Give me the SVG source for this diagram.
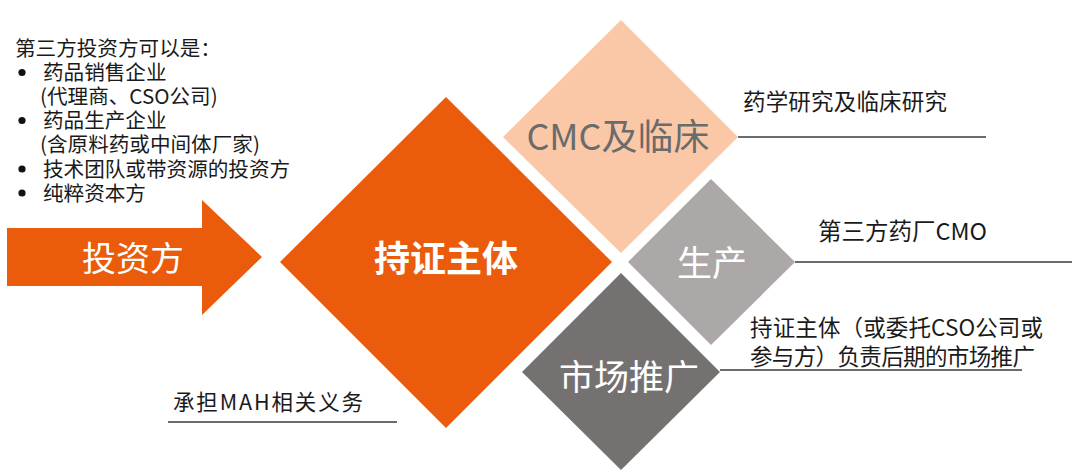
<svg xmlns="http://www.w3.org/2000/svg" width="1080" height="474" viewBox="0 0 1080 474">
<style>
text{font-family:"Noto Sans CJK SC","Noto Sans",sans-serif;}
.lbl{font-size:22.5px;fill:#1a1a1a;}
.lst{font-size:20.6px;fill:#1a1a1a;}
.big{font-size:35px;fill:#ffffff;text-anchor:middle;}
.ln{stroke:#3a3a3a;stroke-width:1.4;fill:none;}
</style>
<rect width="1080" height="474" fill="#ffffff"/>
<g id="investor-list">
<text class="lst" x="15" y="55.6">第三方投资方可以是：</text>
<circle cx="22" cy="72.5" r="3.6" fill="#111"/>
<text class="lst" x="43" y="79.8">药品销售企业</text>
<text class="lst" x="40" y="104">(代理商、CSO公司)</text>
<circle cx="22" cy="120.5" r="3.6" fill="#111"/>
<text class="lst" x="43" y="128.2">药品生产企业</text>
<text class="lst" x="40" y="152.4">(含原料药或中间体厂家)</text>
<circle cx="22" cy="169" r="3.6" fill="#111"/>
<text class="lst" x="43" y="176.6">技术团队或带资源的投资方</text>
<circle cx="22" cy="193" r="3.6" fill="#111"/>
<text class="lst" x="43" y="200.8">纯粹资本方</text>
</g>
<g id="investor">
<polygon points="7,228 202,228 202,200 262,257 202,315 202,286 7,286" fill="#EA5B0C"/>
<text class="big" x="133" y="271" style="font-size:34px">投资方</text>
</g>
<g id="mah-holder">
<polygon points="446,97 612,262 446,428 280,262" fill="#EA5B0C"/>
<text x="446" y="272" font-size="36" font-weight="bold" fill="#ffffff" text-anchor="middle">持证主体</text>
</g>
<g id="cmc">
<polygon points="621,20 738,137 621,253 503,137" fill="#FAC8A7"/>
<text x="618" y="150" font-size="36" fill="#6b6b6b" text-anchor="middle">CMC及临床</text>
</g>
<g id="production">
<polygon points="711,179 795,262 711,345 628,262" fill="#ABA8A7"/>
<text class="big" x="712" y="276">生产</text>
</g>
<g id="marketing">
<polygon points="621,273 720,372 621,470 522,372" fill="#767171"/>
<text class="big" x="629" y="390">市场推广</text>
</g>
<g id="connectors">
<line class="ln" x1="738" y1="137" x2="986" y2="137"/>
<line class="ln" x1="795" y1="262" x2="1072" y2="262"/>
<line class="ln" x1="720" y1="370" x2="1022" y2="370"/>
<line class="ln" x1="168" y1="422" x2="397" y2="422"/>
</g>
<g id="labels">
<text class="lbl" x="743" y="110" textLength="204" lengthAdjust="spacing">药学研究及临床研究</text>
<text class="lbl" x="818" y="240" style="font-size:23.5px" textLength="169" lengthAdjust="spacing">第三方药厂CMO</text>
<text class="lbl" x="750" y="336" textLength="293" lengthAdjust="spacing">持证主体（或委托CSO公司或</text>
<text class="lbl" x="750" y="365" textLength="285" lengthAdjust="spacing">参与方）负责后期的市场推广</text>
<text class="lst" x="173" y="410" style="font-size:21.5px" textLength="190" lengthAdjust="spacing">承担MAH相关义务</text>
</g>
</svg>
